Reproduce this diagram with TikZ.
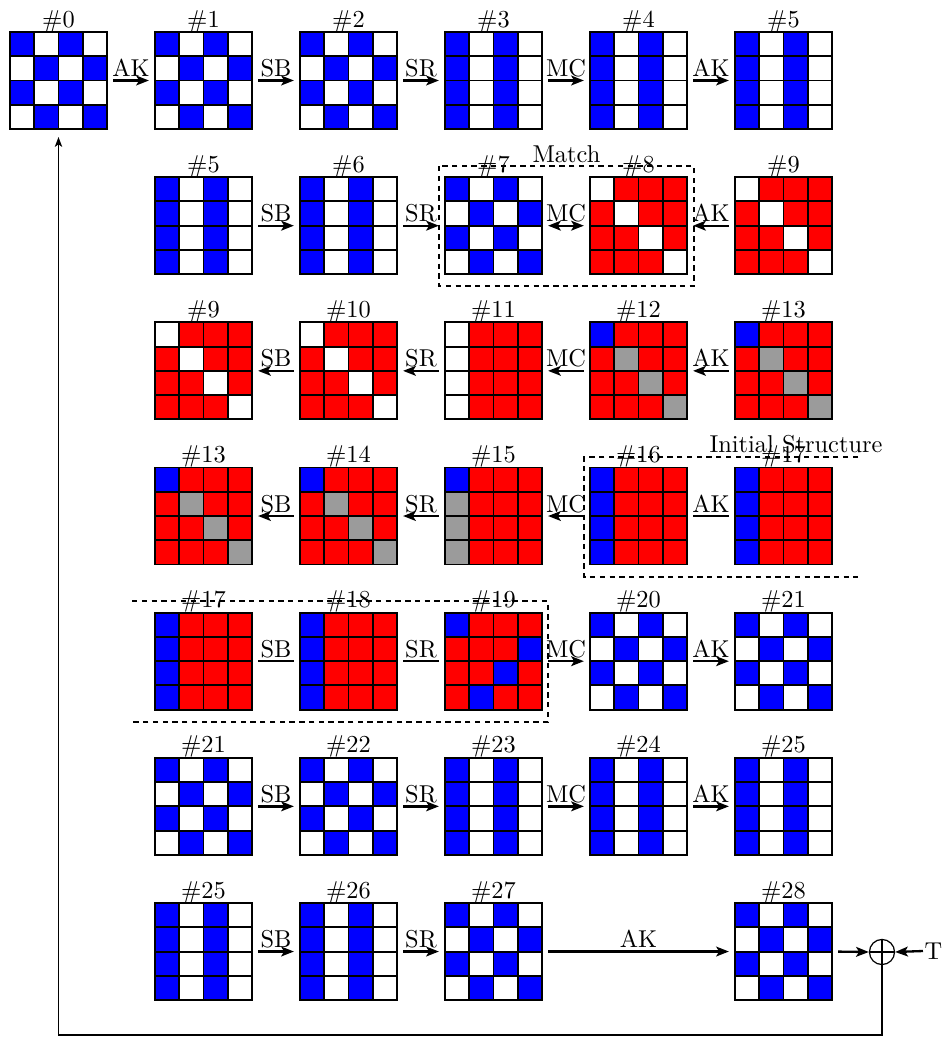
\documentclass[tikz,border=0pt]{standalone}
\usetikzlibrary{arrows.meta}
\definecolor{cb}{RGB}{0,0,255}
\definecolor{cw}{RGB}{255,255,255}
\definecolor{cr}{RGB}{255,0,0}
\definecolor{cg}{RGB}{155,155,155}
\def\pA{cb,cw,cb,cw,cw,cb,cw,cb,cb,cw,cb,cw,cw,cb,cw,cb}
\def\pC{cb,cw,cb,cw,cb,cw,cb,cw,cb,cw,cb,cw,cb,cw,cb,cw}
\def\pD{cw,cr,cr,cr,cr,cw,cr,cr,cr,cr,cw,cr,cr,cr,cr,cw}
\def\pE{cw,cr,cr,cr,cw,cr,cr,cr,cw,cr,cr,cr,cw,cr,cr,cr}
\def\pF{cb,cr,cr,cr,cr,cg,cr,cr,cr,cr,cg,cr,cr,cr,cr,cg}
\def\pH{cb,cr,cr,cr,cg,cr,cr,cr,cg,cr,cr,cr,cg,cr,cr,cr}
\def\pI{cb,cr,cr,cr,cb,cr,cr,cr,cb,cr,cr,cr,cb,cr,cr,cr}
\def\pJ{cb,cr,cr,cr,cr,cr,cr,cb,cr,cr,cb,cr,cr,cb,cr,cr}
\newcommand\mygrid[5]{%
  \pgfmathsetmacro\gx{10+145*#1}%
  \pgfmathsetmacro\gy{32+145.17*#2}%
  \foreach \cc [count=\i from 0] in #5 {
    \pgfmathtruncatemacro\rr{floor(\i/4)}
    \pgfmathtruncatemacro\kk{mod(\i,4)}
    \fill[\cc] ({\gx+\kk*24.25},{\gy+\rr*24.25}) rectangle ++(24.25,24.25);
  }
  \foreach \k in {1,2,3} {
    \draw[gline] ({\gx+\k*24.25},\gy) -- ++(0,97);
    \draw[gline] (\gx,{\gy+\k*24.25}) -- ++(97,0);
  }
  \draw[gline] (\gx,\gy) rectangle ++(97,97);
  \node[gbox] (#3) at ({\gx+48.5},{\gy+48.5}) {};
  \node[glabel] (#3l) at ({\gx+48.5},{\gy-5}) {\##4};
}
\tikzset{
  myhead/.tip={Stealth[length=5.2pt,width=4pt,inset=1.2pt]},
  gline/.style={line width=0.8pt, black},
  gbox/.style={draw=none, minimum size=39.77pt, inner sep=0pt, outer sep=0pt},
  glabel/.style={anchor=base, inner sep=0pt},
  conn/.style={line width=0.95pt, shorten >=2.5pt, shorten <=2.5pt},
  arr/.style={conn, -myhead},
  dbl/.style={conn, myhead-myhead},
  alab/.style={midway, anchor=base, yshift=1.6pt, inner sep=0pt},
  dbox/.style={line width=0.6pt, dash pattern=on 2.2pt off 1.8pt},
}
\begin{document}
\begin{tikzpicture}[x=0.41pt, y=-0.41pt]
\useasboundingbox (0,0) rectangle (948,1037);
% row 0
\mygrid{0}{0}{g00}{0}{\pA}
\mygrid{1}{0}{g01}{1}{\pA}
\mygrid{2}{0}{g02}{2}{\pA}
\mygrid{3}{0}{g03}{3}{\pC}
\mygrid{4}{0}{g04}{4}{\pC}
\mygrid{5}{0}{g05}{5}{\pC}
\draw[arr] (g00.east) -- node[alab]{AK} (g01.west);
\draw[arr] (g01.east) -- node[alab]{SB} (g02.west);
\draw[arr] (g02.east) -- node[alab]{SR} (g03.west);
\draw[arr] (g03.east) -- node[alab]{MC} (g04.west);
\draw[arr] (g04.east) -- node[alab]{AK} (g05.west);
% row 1
\mygrid{1}{1}{g11}{5}{\pC}
\mygrid{2}{1}{g12}{6}{\pC}
\mygrid{3}{1}{g13}{7}{\pA}
\mygrid{4}{1}{g14}{8}{\pD}
\mygrid{5}{1}{g15}{9}{\pD}
\draw[arr] (g11.east) -- node[alab]{SB} (g12.west);
\draw[arr] (g12.east) -- node[alab]{SR} (g13.west);
\draw[dbl] (g13.east) -- node[alab]{MC} (g14.west);
\draw[arr] (g15.west) -- node[alab]{AK} (g14.east);
% row 2
\mygrid{1}{2}{g21}{9}{\pD}
\mygrid{2}{2}{g22}{10}{\pD}
\mygrid{3}{2}{g23}{11}{\pE}
\mygrid{4}{2}{g24}{12}{\pF}
\mygrid{5}{2}{g25}{13}{\pF}
\draw[arr] (g22.west) -- node[alab]{SB} (g21.east);
\draw[arr] (g23.west) -- node[alab]{SR} (g22.east);
\draw[arr] (g24.west) -- node[alab]{MC} (g23.east);
\draw[arr] (g25.west) -- node[alab]{AK} (g24.east);
% row 3
\mygrid{1}{3}{g31}{13}{\pF}
\mygrid{2}{3}{g32}{14}{\pF}
\mygrid{3}{3}{g33}{15}{\pH}
\mygrid{4}{3}{g34}{16}{\pI}
\mygrid{5}{3}{g35}{17}{\pI}
\draw[arr] (g32.west) -- node[alab]{SB} (g31.east);
\draw[arr] (g33.west) -- node[alab]{SR} (g32.east);
\draw[arr] (g34.west) -- node[alab]{MC} (g33.east);
\draw[conn] (g34.east) -- node[alab]{AK} (g35.west);
% row 4
\mygrid{1}{4}{g41}{17}{\pI}
\mygrid{2}{4}{g42}{18}{\pI}
\mygrid{3}{4}{g43}{19}{\pJ}
\mygrid{4}{4}{g44}{20}{\pA}
\mygrid{5}{4}{g45}{21}{\pA}
\draw[conn] (g41.east) -- node[alab]{SB} (g42.west);
\draw[conn] (g42.east) -- node[alab]{SR} (g43.west);
\draw[arr] (g43.east) -- node[alab]{MC} (g44.west);
\draw[arr] (g44.east) -- node[alab]{AK} (g45.west);
% row 5
\mygrid{1}{5}{g51}{21}{\pA}
\mygrid{2}{5}{g52}{22}{\pA}
\mygrid{3}{5}{g53}{23}{\pC}
\mygrid{4}{5}{g54}{24}{\pC}
\mygrid{5}{5}{g55}{25}{\pC}
\draw[arr] (g51.east) -- node[alab]{SB} (g52.west);
\draw[arr] (g52.east) -- node[alab]{SR} (g53.west);
\draw[arr] (g53.east) -- node[alab]{MC} (g54.west);
\draw[arr] (g54.east) -- node[alab]{AK} (g55.west);
% row 6
\mygrid{1}{6}{g61}{25}{\pC}
\mygrid{2}{6}{g62}{26}{\pC}
\mygrid{3}{6}{g63}{27}{\pA}
\mygrid{5}{6}{g65}{28}{\pA}
\draw[arr] (g61.east) -- node[alab]{SB} (g62.west);
\draw[arr] (g62.east) -- node[alab]{SR} (g63.west);
\draw[arr] (g63.east) -- node[alab]{AK} (g65.west);
% dashed boxes
\draw[dbox] (439,166) rectangle (694,286);
\node[anchor=base, inner sep=0pt] (matchlbl) at (566.5,162) {Match};
\draw[dbox] (858,457) -- (584,457) -- (584,577) -- (858,577);
\node[anchor=base, inner sep=0pt] (islbl) at (796,452) {Initial Structure};
\draw[dbox] (132,601) -- (548,601) -- (548,722) -- (132,722);
% xor and feedback
\node[circle, draw, line width=0.5pt, minimum size=10.3pt, inner sep=0pt] (xor) at (882,952) {};
\draw[line width=0.5pt] (xor.north) -- (xor.south) (xor.west) -- (xor.east);
\node[inner sep=0.5pt] (T) at (933.5,951) {T};
\draw[line width=0.95pt, -myhead, shorten <=2.5pt] (g65.east) -- (xor.west);
\draw[line width=0.95pt, -myhead] (T.west) -- (xor.east);
\coordinate (fb1) at (882,1035);
\coordinate (fb2) at (58.5,1035);
\draw[line width=0.6pt, -{Stealth[length=4pt,width=3pt,inset=1pt]}, shorten >=3.3pt] (xor.south) -- (fb1) -- (fb2) -- (g00.south);
\end{tikzpicture}
\end{document}
